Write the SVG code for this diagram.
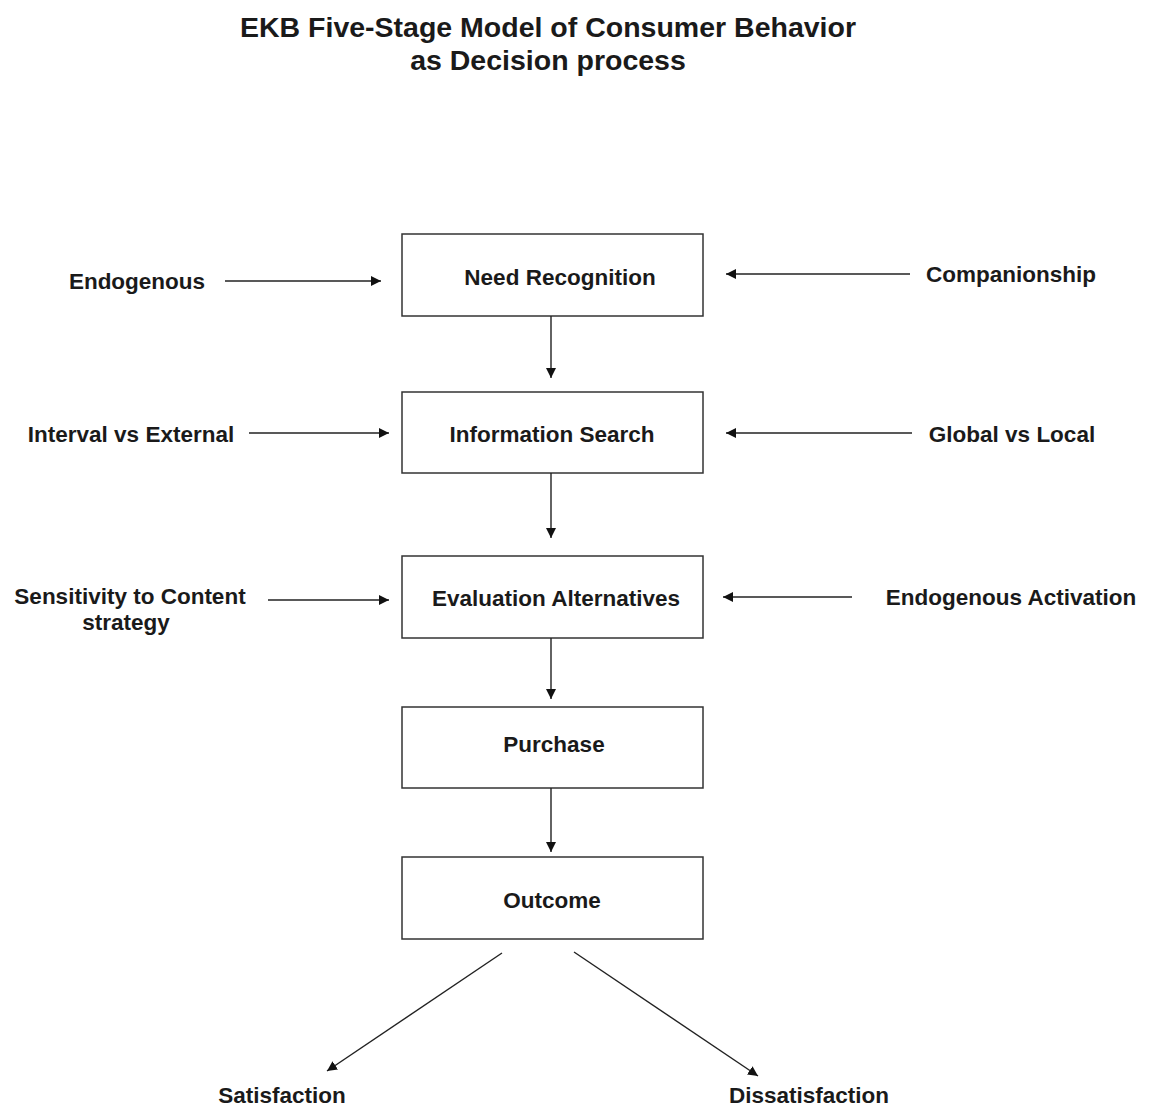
<svg xmlns="http://www.w3.org/2000/svg" width="1152" height="1108" viewBox="0 0 1152 1108">
<defs>
<style>
text{font-family:"Liberation Sans",Arial,sans-serif;font-weight:bold;fill:#1a1a1a;text-anchor:middle;dominant-baseline:central}
.t{font-size:28.5px}
.l{font-size:22.5px}
.box rect{fill:#fff;stroke:#333;stroke-width:1.5}
#connectors line{stroke:#222;stroke-width:1.4;marker-end:url(#ah)}
</style>
<marker id="ah" viewBox="0 0 10 10" refX="10" refY="5" markerWidth="10" markerHeight="10" markerUnits="userSpaceOnUse" orient="auto"><path d="M0,0 L10,5 L0,10 z" fill="#111"/></marker>
</defs>
<rect width="1152" height="1108" fill="#fff"/>
<g id="title"><text class="t" x="548" y="27">EKB Five-Stage Model of Consumer Behavior</text><text class="t" x="548" y="60">as Decision process</text></g>
<g id="need" class="box"><rect x="402" y="234" width="301" height="82"/><text class="l" x="560" y="277">Need Recognition</text></g>
<g id="info" class="box"><rect x="402" y="392" width="301" height="81"/><text class="l" x="552" y="434">Information Search</text></g>
<g id="eval" class="box"><rect x="402" y="556" width="301" height="82"/><text class="l" x="556" y="598">Evaluation Alternatives</text></g>
<g id="purchase" class="box"><rect x="402" y="707" width="301" height="81"/><text class="l" x="554" y="744">Purchase</text></g>
<g id="outcome" class="box"><rect x="402" y="857" width="301" height="82"/><text class="l" x="552" y="900">Outcome</text></g>
<g id="endogenous"><text class="l" x="137" y="281">Endogenous</text></g>
<g id="companionship"><text class="l" x="1011" y="274">Companionship</text></g>
<g id="interval"><text class="l" x="131" y="434">Interval vs External</text></g>
<g id="global"><text class="l" x="1012" y="434">Global vs Local</text></g>
<g id="sensitivity"><text class="l" x="130" y="596">Sensitivity to Content</text><text class="l" x="126" y="622">strategy</text></g>
<g id="activation"><text class="l" x="1011" y="597">Endogenous Activation</text></g>
<g id="satisfaction"><text class="l" x="282" y="1095">Satisfaction</text></g>
<g id="dissatisfaction"><text class="l" x="809" y="1095">Dissatisfaction</text></g>
<g id="connectors">
<line x1="551" y1="316" x2="551" y2="378"/>
<line x1="551" y1="473" x2="551" y2="538"/>
<line x1="551" y1="638" x2="551" y2="699"/>
<line x1="551" y1="788" x2="551" y2="852"/>
<line x1="225" y1="281" x2="381" y2="281"/>
<line x1="249" y1="433" x2="389" y2="433"/>
<line x1="268" y1="600" x2="389" y2="600"/>
<line x1="910" y1="274" x2="726" y2="274"/>
<line x1="912" y1="433" x2="726" y2="433"/>
<line x1="852" y1="597" x2="723" y2="597"/>
<line x1="502" y1="953" x2="327" y2="1071"/>
<line x1="574" y1="952" x2="758" y2="1076"/>
</g>
</svg>
